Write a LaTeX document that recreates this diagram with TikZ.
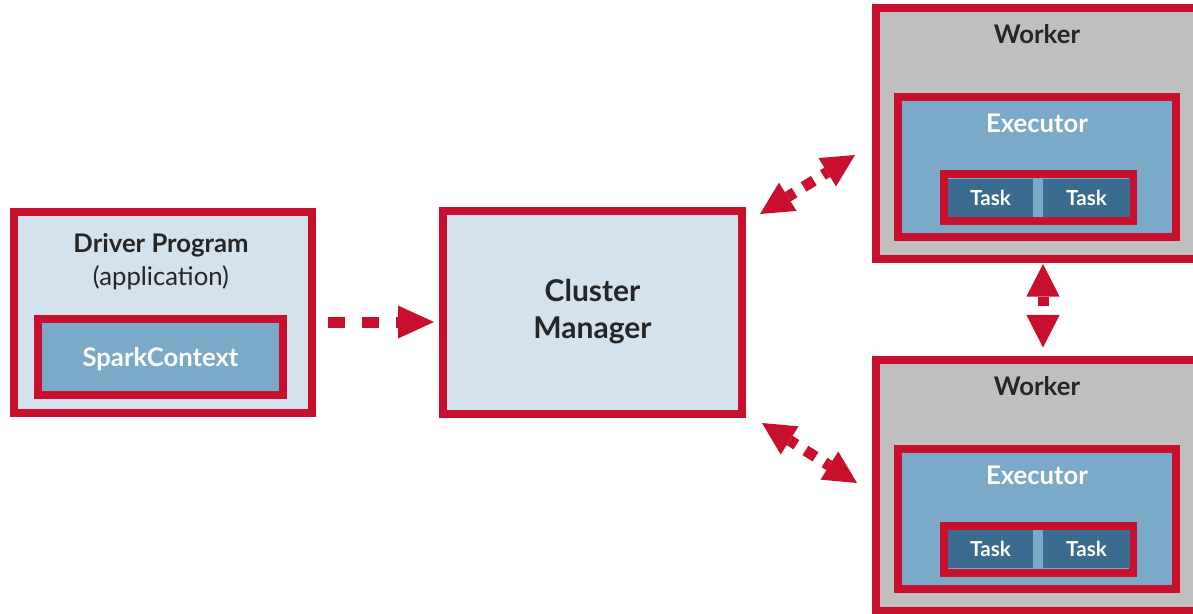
\documentclass[tikz,border=0pt]{standalone}
\usepackage{fontspec}
\setmainfont{Lato}
\usetikzlibrary{arrows.meta, calc}
\definecolor{sparkred}{HTML}{C8102E}
\definecolor{paleblue}{HTML}{D3E2ED}
\definecolor{midblue}{HTML}{7BAAC9}
\definecolor{darkblue}{HTML}{3B6B8E}
\definecolor{workergray}{HTML}{BFBFBF}
\definecolor{inktext}{HTML}{262626}
\tikzstyle{box} = [rectangle, draw=sparkred, line width=6pt, inner sep=0pt]
\tikzstyle{panel} = [box, fill=paleblue]
\tikzstyle{worker} = [box, fill=workergray, minimum width=250.5pt, minimum height=188.25pt]
\tikzstyle{executor} = [box, fill=midblue, minimum width=208.5pt, minimum height=105pt]
\tikzstyle{taskgroup} = [box, fill=midblue, minimum width=141.75pt, minimum height=35.25pt]
\tikzstyle{taskbox} = [rectangle, fill=darkblue, text=white, inner sep=0pt, minimum height=28.5pt, text depth=0pt, font=\bfseries\fontsize{15.5}{18}\selectfont]
\tikzstyle{heading} = [text=inktext, text depth=0pt, font=\bfseries\fontsize{19.25}{22}\selectfont]
\tikzstyle{whitehead} = [text=white, text depth=0pt, font=\bfseries\fontsize{19.25}{22}\selectfont]
\tikzstyle{arrow} = [draw=sparkred, line width=8.25pt, {Triangle[length=24.5pt,width=25pt,line width=0pt]}-{Triangle[length=24.5pt,width=25pt,line width=0pt]}]
\tikzstyle{flow} = [draw=sparkred, line width=8.25pt, -{Triangle[length=27pt,width=24.75pt,line width=0pt]}, dash pattern=on 12.75pt off 12.75pt]

\begin{document}
\begin{tikzpicture}[x=0.75pt, y=-0.75pt]
        \clip (0,0) rectangle (1193,614);

        % driver and cluster manager
        \node (driver) [panel, minimum width=223.5pt, minimum height=150.75pt] at (163,312) {};
        \node (drivertitle) [heading] at (161,243) {Driver Program};
        \node (driverapp) [text=inktext, text depth=0pt, font=\fontsize{19.25}{22}\selectfont] at (161,276) {(application)};
        \node (sparkctx) [box, fill=midblue, minimum width=183.75pt, minimum height=57pt, whitehead] at (160.5,357) {SparkContext};
        \node (cluster) [panel, minimum width=224.25pt, minimum height=152.25pt, align=center, text=inktext, font=\bfseries\fontsize{22.5}{27.75}\selectfont] at (592.5,312) {Cluster\\Manager};

        % workers
        \node (worker1) [worker] at (1043,133.5) {};
        \node (worker1title) [heading] at (1037,34) {Worker};
        \node (exec1) [executor] at (1037,167) {};
        \node (exec1title) [whitehead] at (1037,123) {Executor};
        \node (group1) [taskgroup] at (1038.5,197.5) {};
        \node (task1a) [taskbox, minimum width=63.75pt] at (990.5,197.5) {Task};
        \node (task1b) [taskbox, minimum width=65.25pt] at (1086.5,197.5) {Task};

        \node (worker2) [worker] at (1043,485) {};
        \node (worker2title) [heading] at (1037,386) {Worker};
        \node (exec2) [executor] at (1037,519) {};
        \node (exec2title) [whitehead] at (1037,475) {Executor};
        \node (group2) [taskgroup] at (1038.5,549) {};
        \node (task2a) [taskbox, minimum width=63.75pt] at (990.5,549) {Task};
        \node (task2b) [taskbox, minimum width=65.25pt] at (1086.5,549) {Task};

        % connectors
        \draw [flow] ($(driver.east)+(12,10)$) -- ($(cluster.west)+(-5,10)$);
        \draw [arrow, dash pattern=on 6pt off 8pt on 9pt off 8pt on 20pt] ($(cluster.north east)+(14,7.5)$) -- ($(worker1.west)+(-17,21.5)$);
        \draw [arrow, dash pattern=on 6pt off 8pt on 9pt off 8pt on 20pt] ($(cluster.south east)+(16,5.5)$) -- ($(worker2.west)+(-15,-2)$);
        \draw [arrow, dash pattern=on 7pt off 7.5pt on 20pt] ($(worker1.south)+(0,1)$) -- ($(worker2.north)+(0,-8)$);
    \end{tikzpicture}
\end{document}
